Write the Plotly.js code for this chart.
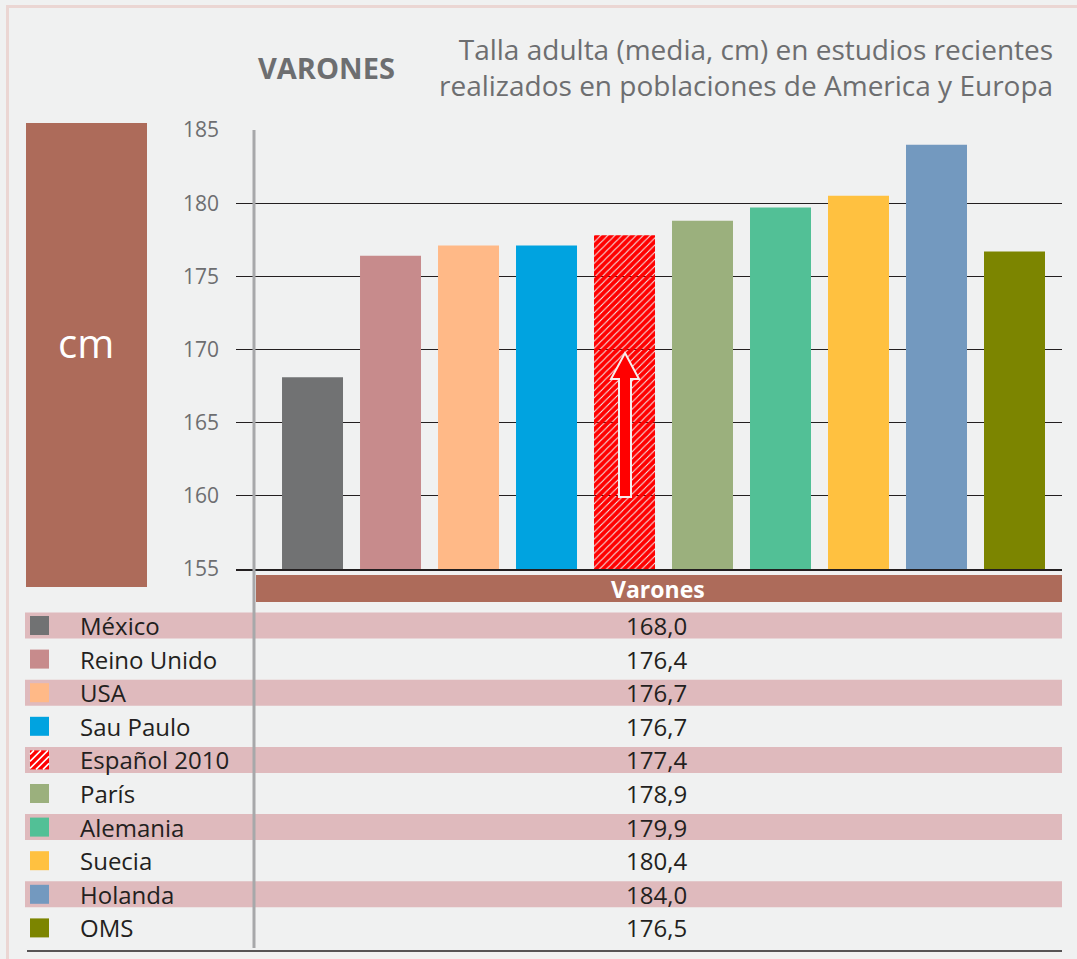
<!DOCTYPE html>
<html>
<head>
<meta charset="utf-8">
<script src="https://cdn.plot.ly/plotly-3.0.1.min.js"></script>
<style>
html,body{margin:0;padding:0;background:#F0F1F1;}
#chart{width:1077px;height:959px;}
</style>
</head>
<body>
<div id="chart"></div>
<script>
// ---- Data ----
const categorias = ['México','Reino Unido','USA','Sau Paulo','Español 2010','París','Alemania','Suecia','Holanda','OMS'];
// bar heights as drawn in the picture (cm)
const tallaBarras = [168.1, 176.4, 177.1, 177.1, 177.8, 178.8, 179.7, 180.5, 184.0, 176.7];
// values printed in the table (cm)
const tallaTabla = [168.0, 176.4, 176.7, 176.7, 177.4, 178.9, 179.9, 180.4, 184.0, 176.5];
const colores = ['#717273','#C78B8C','#FFB987','#00A3E0','#FF0000','#9BB07D','#52C096','#FFC140','#7399BF','#7C8500'];
const patrones = ['','','','','/','','','','',''];
const yTicks = [155, 160, 165, 170, 175, 180, 185];
const titulo = 'VARONES';
const subtitulo = ['Talla adulta (media, cm) en estudios recientes', 'realizados en poblaciones de America y Europa'];
const unidad = 'cm';
const cabecera = 'Varones';

// ---- Layout helpers (pixel -> paper) ----
const W = 1077, H = 959;
const L = 236, R = 1062, T = 130, B = 569;
const px = x => (x - L) / (R - L);
const py = y => (B - y) / (B - T);
const FONT = 'Open Sans, Noto Sans, DejaVu Sans, sans-serif';
const GRAY = '#6D6E70';
const BROWN = '#AD6B5A';
const PINK = '#DFBABD';

const shapes = [];
const annotations = [];

function rect(x0, y0, x1, y1, color, layer) {
  shapes.push({type:'rect', xref:'paper', yref:'paper', x0:px(x0), x1:px(x1), y0:py(y1), y1:py(y0),
    fillcolor:color, line:{width:0}, layer: layer || 'above'});
}
function line(x0, y0, x1, y1, color, width) {
  shapes.push({type:'line', xref:'paper', yref:'paper', x0:px(x0), x1:px(x1), y0:py(y0), y1:py(y1),
    line:{color:color, width:width}, layer:'above'});
}
function text(x, y, t, size, color, xanchor, bold, align) {
  annotations.push({xref:'paper', yref:'paper', x:px(x), y:py(y), text: bold ? '<b>'+t+'</b>' : t,
    showarrow:false, xanchor:xanchor, yanchor:'middle', borderpad:0, align: align || 'center',
    font:{family:FONT, size:size, color:color}});
}

// outer border (top & left)
line(6, 6.5, W, 6.5, '#EBD6D3', 3);
line(7.5, 5, 7.5, H, '#EBD6D3', 3);

// titles
text(257, 67, titulo, 29, GRAY, 'left', true);
text(1054, 67, subtitulo.join('<br>'), 28, GRAY, 'right', false, 'right');

// unit box
rect(26, 123, 147, 587, BROWN);
text(86, 342, unidad, 40, '#FFFFFF', 'center', false);

// table header
rect(256, 575, 1062, 602, BROWN);
text(658, 589, cabecera, 23, '#FFFFFF', 'center', true);

// table rows
const row0 = 625.5, rowStep = 33.6;
categorias.forEach((c, i) => {
  const yc = row0 + i * rowStep;
  if (i % 2 === 0) rect(25, yc - 13, 1062, yc + 13, PINK);
  rect(30, yc - 9.5, 49, yc + 9.5, colores[i]);
  if (patrones[i]) {
    // hatch inside legend square
    const x0 = 30, x1 = 49, y0 = yc - 9.5, y1 = yc + 9.5;
    let d = '';
    for (let cc = x0 + y0 + 4; cc < x1 + y1; cc += 7) {
      const xa = Math.max(x0, cc - y1), xb = Math.min(x1, cc - y0);
      if (xb <= xa) continue;
      d += 'M' + px(xa) + ',' + py(cc - xa) + 'L' + px(xb) + ',' + py(cc - xb);
    }
    shapes.push({type:'path', xref:'paper', yref:'paper', path:d, line:{color:'#FFFFFF', width:1.6}, layer:'above'});
  }
  text(79, yc, c, 24, '#231F20', 'left', false);
  text(656, yc, tallaTabla[i].toFixed(1).replace('.', ','), 24, '#231F20', 'center', false);
});

// vertical gray line and bottom rule
line(254, 130, 254, 948, '#A7A8AA', 3);
line(27, 951, 1062, 951, '#231F20', 1.5);

// arrow inside Español bar
const arrowPts = [[625,353],[639,379],[631,379],[631,497],[619,497],[619,379],[611,379]];
shapes.push({type:'path', xref:'paper', yref:'paper',
  path: arrowPts.map((p, k) => (k ? 'L' : 'M') + px(p[0]) + ',' + py(p[1])).join('') + 'Z',
  fillcolor:'#FF0000', line:{color:'#F7EDED', width:2}, layer:'above'});

const trace = {
  type:'bar', x:categorias, y:tallaBarras,
  marker:{color:colores, line:{width:0},
    pattern:{shape:patrones, fillmode:'replace', bgcolor:'#FFFFFF', fgcolor:'#FF0000', fgopacity:1, size:5, solidity:0.8}},
  hoverinfo:'x+y'
};

const layout = {
  width:W, height:H,
  margin:{l:L, r:W - R, t:T, b:H - B, pad:0},
  paper_bgcolor:'#F0F1F1', plot_bgcolor:'#F0F1F1',
  showlegend:false,
  bargap:0.218,
  xaxis:{type:'category', range:[-0.981, 9.609], showticklabels:false, ticks:'', showgrid:false,
    showline:true, linecolor:'#231F20', linewidth:1.5, zeroline:false, fixedrange:true},
  yaxis:{range:[155, 185], tickvals:yTicks, ticktext:yTicks.map(String), showgrid:true,
    gridcolor:'#231F20', gridwidth:1.3, zeroline:false, showline:false, ticks:'',
    ticklabelstandoff:16, tickfont:{family:FONT, size:21, color:GRAY}, fixedrange:true},
  shapes:shapes,
  annotations:annotations
};

Plotly.newPlot('chart', [trace], layout, {displayModeBar:false, staticPlot:true});
</script>
</body>
</html>
